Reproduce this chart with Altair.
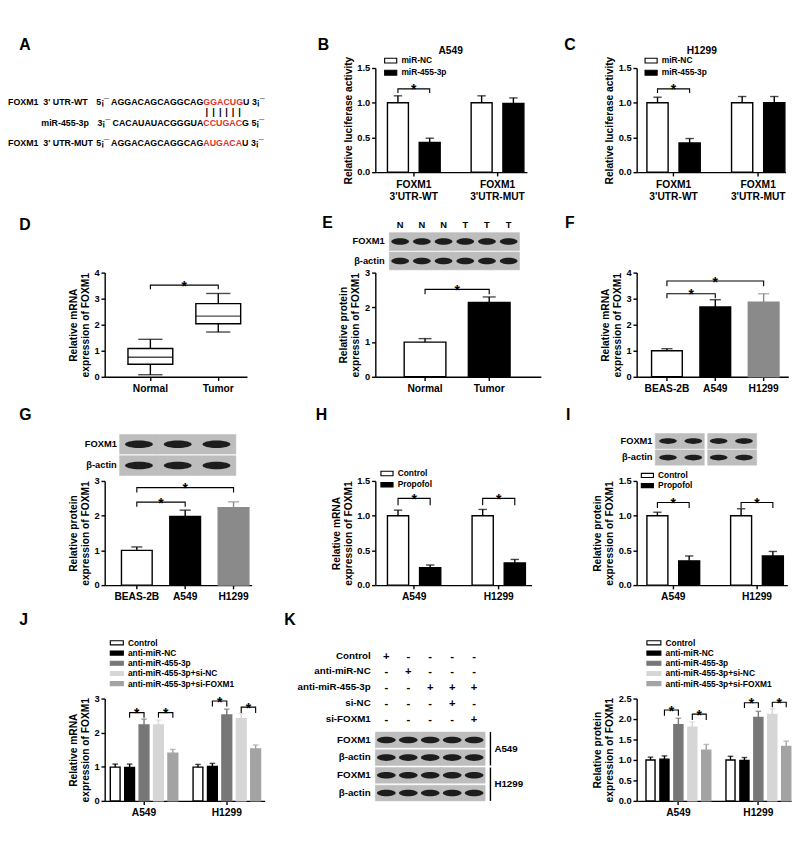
import altair as alt
import pandas as pd

FONT = "Liberation Sans"
INK = "#000000"
RED = "#e0332b"
BLOT_BG = "#bdbdbd"
BAND = "#141414"

seq_prefix = ["5¡¯ AGGACAGCAGGCAG", "3¡¯ CACAUAUACGGGUA", "5¡¯ AGGACAGCAGGCAG"]
seq_site = ["GGACUG", "CCUGAC", "AUGACA"]
seq_suffix = ["U 3¡¯", "G 5¡¯", "U 3¡¯"]

luc_groups = ["FOXM1 3'UTR-WT", "FOXM1 3'UTR-MUT"]
luc_series = ["miR-NC", "miR-455-3p"]
luc_ticks = [0.0, 0.5, 1.0, 1.5]
b_mean = [1.00, 0.43, 1.00, 0.99]
b_sem = [0.10, 0.06, 0.10, 0.08]
b_brackets = [("FOXM1 3'UTR-WT", "miR-NC", "miR-455-3p", 1.20, 0.06)]
c_mean = [1.00, 0.42, 1.00, 1.00]
c_sem = [0.08, 0.065, 0.09, 0.09]
c_brackets = [("FOXM1 3'UTR-WT", "miR-NC", "miR-455-3p", 1.20, 0.06)]

tissue = ["Normal", "Tumor"]
d_low = [0.08, 1.72]
d_q1 = [0.48, 2.04]
d_med = [0.75, 2.33]
d_q3 = [1.09, 2.81]
d_high = [1.44, 3.20]
d_ticks = [0, 1, 2, 3, 4]
d_brackets = [("Normal", "Tumor", 3.52, 0.16)]

e_mean = [1.00, 2.14]
e_sem = [0.10, 0.16]
e_ticks = [0, 1, 2, 3]
e_brackets = [("Normal", "Tumor", 2.52, 0.14)]
e_lanes = ["N1", "N2", "N3", "T1", "T2", "T3"]
e_lane_labels = ["N", "N", "N", "T", "T", "T"]

cells3 = ["BEAS-2B", "A549", "H1299"]
f_mean = [1.00, 2.68, 2.87]
f_sem = [0.08, 0.28, 0.32]
f_ticks = [0, 1, 2, 3, 4]
f_brackets = [("BEAS-2B", "A549", 3.19, 0.17), ("BEAS-2B", "H1299", 3.68, 0.20)]
g_mean = [1.00, 1.98, 2.23]
g_sem = [0.10, 0.18, 0.17]
g_ticks = [0, 1, 2, 3]
g_brackets = [("BEAS-2B", "A549", 2.39, 0.13), ("BEAS-2B", "H1299", 2.81, 0.14)]

cells2 = ["A549", "H1299"]
prop_series = ["Control", "Propofol"]
h_mean = [1.00, 0.25, 1.00, 0.32]
h_sem = [0.08, 0.04, 0.09, 0.05]
h_brackets = [("A549", "Control", "Propofol", 1.25, 0.10), ("H1299", "Control", "Propofol", 1.25, 0.10)]
i_mean = [1.00, 0.35, 1.00, 0.42]
i_sem = [0.05, 0.07, 0.10, 0.065]
i_brackets = [("A549", "Control", "Propofol", 1.19, 0.08), ("H1299", "Control", "Propofol", 1.19, 0.08)]
i_lanes = ["A549 C", "A549 P", "H1299 C", "H1299 P"]

rescue = ["Control", "anti-miR-NC", "anti-miR-455-3p",
          "anti-miR-455-3p+si-NC", "anti-miR-455-3p+si-FOXM1"]
j_mean = [0.99, 0.98, 2.23, 2.23, 1.40, 0.99, 1.01, 2.52, 2.41, 1.52]
j_sem = [0.09, 0.10, 0.17, 0.14, 0.11, 0.08, 0.09, 0.17, 0.15, 0.12]
j_brackets = [("A549", rescue[1], rescue[2], 2.59, 0.15), ("A549", rescue[3], rescue[4], 2.59, 0.15),
              ("H1299", rescue[1], rescue[2], 2.93, 0.16), ("H1299", rescue[3], rescue[4], 2.75, 0.17)]
k_mean = [1.00, 1.02, 1.86, 1.80, 1.24, 1.00, 0.99, 2.04, 2.11, 1.33]
k_sem = [0.07, 0.08, 0.16, 0.13, 0.14, 0.09, 0.07, 0.15, 0.14, 0.13]
k_brackets = [("A549", rescue[1], rescue[2], 2.22, 0.14), ("A549", rescue[3], rescue[4], 2.12, 0.14),
              ("H1299", rescue[1], rescue[2], 2.40, 0.13), ("H1299", rescue[3], rescue[4], 2.41, 0.12)]
k_treat = ["Control", "anti-miR-NC", "anti-miR-455-3p", "si-NC", "si-FOXM1"]
k_signs = ["+----", "-+---", "--+++", "---+-", "----+"]
k_lanes = ["1", "2", "3", "4", "5"]
k_rows = ["FOXM1|A549", "β-actin|A549", "FOXM1|H1299", "β-actin|H1299"]
k_cells = ["A549", "H1299"]

MRNA = ["Relative mRNA", "expression of FOXM1"]
PROT = ["Relative protein", "expression of FOXM1"]

ARIAL_BOLD = {"A": 0.722, "C": 0.722, "G": 0.778, "U": 0.722}

H1, H2, H3, H4 = 112, 112, 112, 110


def ellipse(r):
    k = 0.5523
    return (f"M-1,0C-1,{-k*r:.3f},{-k:.3f},{-r:.3f},0,{-r:.3f}"
            f"C{k:.3f},{-r:.3f},1,{-k*r:.3f},1,0"
            f"C1,{k*r:.3f},{k:.3f},{r:.3f},0,{r:.3f}"
            f"C{-k:.3f},{r:.3f},-1,{k*r:.3f},-1,0Z")


def band_params(W, n, step, left, pi):
    po = max((W / step - n + pi) / 2.0, 0.0)
    st = W / (n - pi + 2 * po)
    outer = W - st * (n - pi)
    al = min(max(left / outer, 0.0), 1.0) if outer > 0.5 else 0.5
    return po, al, st


def y_enc(field, ticks, fmt, title):
    return alt.Y(field, scale=alt.Scale(domain=[0, ticks[-1]], nice=False, zero=True),
                 axis=alt.Axis(values=ticks, format=fmt, title=title))


def text_at(txt, x, y, size=10, color=INK, align="left", baseline="middle"):
    return alt.Chart(pd.DataFrame({"t": [txt]})).mark_text(
        align=align, baseline=baseline, fontSize=size, fontWeight="bold", color=color, font=FONT
    ).encode(x=alt.value(x), y=alt.value(y), text="t:N")


def spacer(w, h):
    return alt.Chart(pd.DataFrame({"v": [0]})).mark_point(opacity=0).encode(
        x=alt.value(0), y=alt.value(0)).properties(width=w, height=h)


def legend_layers(series, fill, stroke, lx, first_c, pitch, sw=13):
    n = len(series)
    pi = 0.6
    top = first_c - pitch / 2.0
    LY = alt.Y("series:N", sort=series, axis=None,
               scale=alt.Scale(domain=series, range=[top, top + n * pitch],
                               paddingInner=pi, paddingOuter=pi / 2))
    df = pd.DataFrame({"series": series})
    sw_l = alt.Chart(df).mark_rect(strokeWidth=1.2).encode(
        x=alt.value(lx), x2=alt.value(lx + sw), y=LY, fill=fill, stroke=stroke)
    lab = alt.Chart(df).mark_text(align="left", baseline="middle", fontSize=9, fontWeight="bold",
                                  color=INK, font=FONT).encode(
        x=alt.value(lx + sw + 5), y=LY, text="series:N")
    return alt.layer(sw_l, lab)


def grouped_panel(groups, series, mean, sem, fills, edges, ticks, fmt, ytitle, W,
                  gstep, gleft, gpi, spi, cap, brackets, leg, split=False):
    ns = len(series)
    po, al, st = band_params(W, len(groups), gstep, gleft, gpi)
    ostep = st * (1 - gpi) / (ns - spi)
    df = pd.DataFrame({"group": [g for g in groups for _ in series],
                       "series": [s for _ in groups for s in series],
                       "mean": mean, "sem": sem})
    df["top"] = df["mean"] + df["sem"]
    X = alt.X("group:N", sort=groups, title=None,
              scale=alt.Scale(domain=groups, paddingInner=gpi, paddingOuter=po, align=al),
              axis=alt.Axis(labelAngle=0, labelLineHeight=13,
                            labelExpr="split(datum.label, ' ')" if split else "datum.label"))
    XO = alt.XOffset("series:N", sort=series,
                     scale=alt.Scale(domain=series, paddingInner=spi, paddingOuter=0))
    fill = alt.Fill("series:N", sort=series, scale=alt.Scale(domain=series, range=fills), legend=None)
    stroke = alt.Stroke("series:N", sort=series, scale=alt.Scale(domain=series, range=edges), legend=None)
    col = alt.Color("series:N", sort=series, scale=alt.Scale(domain=series, range=edges), legend=None)
    base = alt.Chart(df)
    bars = base.mark_bar(strokeWidth=1.5).encode(
        x=X, xOffset=XO, y=y_enc("mean:Q", ticks, fmt, ytitle), fill=fill, stroke=stroke)
    err = base.mark_rule(strokeWidth=1.5).encode(
        x=X, xOffset=XO, y=y_enc("mean:Q", ticks, fmt, ytitle), y2="top:Q", color=col)
    caps = base.mark_tick(thickness=1.5, size=cap).encode(
        x=X, xOffset=XO, y=y_enc("top:Q", ticks, fmt, ytitle), color=col)
    rows, stars = [], []
    for i, (g, a, b, lvl, drop) in enumerate(brackets):
        rows += [dict(id=i, step=0, group=g, series=a, y=lvl - drop),
                 dict(id=i, step=1, group=g, series=a, y=lvl),
                 dict(id=i, step=2, group=g, series=b, y=lvl),
                 dict(id=i, step=3, group=g, series=b, y=lvl - drop)]
        stars.append(dict(group=g, series=a, y=lvl))
    lines = alt.Chart(pd.DataFrame(rows)).mark_line(color=INK, strokeWidth=1.2).encode(
        x=X, xOffset=XO, y=y_enc("y:Q", ticks, fmt, ytitle), detail="id:N", order="step:Q")
    st_l = alt.Chart(pd.DataFrame(stars)).mark_text(
        text="*", fontSize=15, fontWeight="bold", dx=ostep / 2, dy=6, baseline="alphabetic",
        align="center", font=FONT, color=INK).encode(
        x=X, xOffset=XO, y=y_enc("y:Q", ticks, fmt, ytitle))
    main = alt.layer(bars, err, caps, lines, st_l)
    legend = legend_layers(series, fill, stroke, *leg)
    return alt.layer(main, legend).resolve_scale(y="independent")


def simple_panel(cats, mean, sem, fills, edges, ticks, fmt, ytitle, W, step, left, pi, cap, brackets):
    po, al, st = band_params(W, len(cats), step, left, pi)
    df = pd.DataFrame({"cat": cats, "mean": mean, "sem": sem})
    df["top"] = df["mean"] + df["sem"]
    X = alt.X("cat:N", sort=cats, title=None,
              scale=alt.Scale(domain=cats, paddingInner=pi, paddingOuter=po, align=al),
              axis=alt.Axis(labelAngle=0))
    fill = alt.Fill("cat:N", sort=cats, scale=alt.Scale(domain=cats, range=fills), legend=None)
    stroke = alt.Stroke("cat:N", sort=cats, scale=alt.Scale(domain=cats, range=edges), legend=None)
    col = alt.Color("cat:N", sort=cats, scale=alt.Scale(domain=cats, range=edges), legend=None)
    base = alt.Chart(df)
    bars = base.mark_bar(strokeWidth=1.5).encode(
        x=X, y=y_enc("mean:Q", ticks, fmt, ytitle), fill=fill, stroke=stroke)
    err = base.mark_rule(strokeWidth=1.5).encode(
        x=X, y=y_enc("mean:Q", ticks, fmt, ytitle), y2="top:Q", color=col)
    caps = base.mark_tick(thickness=1.5, size=cap).encode(
        x=X, y=y_enc("top:Q", ticks, fmt, ytitle), color=col)
    layers = [bars, err, caps] + bracket_layers(cats, X, st, brackets, ticks, fmt, ytitle)
    return alt.layer(*layers)


def bracket_layers(cats, X, st, brackets, ticks, fmt, ytitle):
    rows, out = [], []
    for i, (a, b, lvl, drop) in enumerate(brackets):
        rows += [dict(id=i, step=0, cat=a, y=lvl - drop), dict(id=i, step=1, cat=a, y=lvl),
                 dict(id=i, step=2, cat=b, y=lvl), dict(id=i, step=3, cat=b, y=lvl - drop)]
    out.append(alt.Chart(pd.DataFrame(rows)).mark_line(color=INK, strokeWidth=1.2).encode(
        x=X, y=y_enc("y:Q", ticks, fmt, ytitle), detail="id:N", order="step:Q"))
    for (a, b, lvl, drop) in brackets:
        ia, ib = cats.index(a), cats.index(b)
        mid = (ia + ib) / 2.0
        anchor = cats[int(mid)]
        dx = (mid - int(mid)) * st
        out.append(alt.Chart(pd.DataFrame({"cat": [anchor], "y": [lvl]})).mark_text(
            text="*", fontSize=15, fontWeight="bold", dx=dx, dy=6, baseline="alphabetic",
            align="center", font=FONT, color=INK).encode(
            x=X, y=y_enc("y:Q", ticks, fmt, ytitle)))
    return out


def blot(lanes, rows, row_labels, xr, yr, lab_x, bw, bh, row_pad=0.1,
         lane_labels=None, hdr_y=None, gap_lane=None, lab_size=10):
    cells = pd.DataFrame({"lane": [l for _ in rows for l in lanes],
                          "row": [r for r in rows for _ in lanes]})
    BX = alt.X("lane:N", sort=lanes, axis=None,
               scale=alt.Scale(domain=lanes, range=xr, paddingInner=0, paddingOuter=0))
    BY = alt.Y("row:N", sort=rows, axis=None,
               scale=alt.Scale(domain=rows, range=yr, paddingInner=row_pad, paddingOuter=0))
    bg = alt.Chart(cells).mark_rect(color=BLOT_BG, stroke=BLOT_BG, strokeWidth=0.6).encode(x=BX, y=BY)
    bands = alt.Chart(cells).mark_point(shape=ellipse(bh / bw), filled=True, color=BAND,
                                        opacity=0.95, size=bw * bw, strokeWidth=0).encode(x=BX, y=BY)
    labs = alt.Chart(pd.DataFrame({"row": rows, "lab": row_labels})).mark_text(
        align="right", baseline="middle", fontSize=lab_size, fontWeight="bold", color=INK, font=FONT
    ).encode(x=alt.value(lab_x), y=BY, text="lab:N")
    layers = [bg, bands, labs]
    if lane_labels is not None:
        layers.append(alt.Chart(pd.DataFrame({"lane": lanes, "lab": lane_labels})).mark_text(
            baseline="middle", fontSize=10, fontWeight="bold", color=INK, font=FONT
        ).encode(x=BX, y=alt.value(hdr_y), text="lab:N"))
    if gap_lane is not None:
        layers.append(alt.Chart(pd.DataFrame({"lane": [gap_lane]})).mark_rule(
            color="white", strokeWidth=3).encode(
            x=alt.X("lane:N", sort=lanes, axis=None, bandPosition=0,
                    scale=alt.Scale(domain=lanes, range=xr, paddingInner=0, paddingOuter=0)),
            y=alt.value(yr[0] - 1), y2=alt.value(yr[1] + 1)))
    return alt.layer(*layers)


# ---- A ----
FS = 9.5
A_layers = [text_at("A", -92, -32, 17, baseline="top")]
row_y = [37, 59, 81]
A_layers += [text_at("FOXM1", -104, row_y[0], FS), text_at("3' UTR-WT", -66, row_y[0], FS),
             text_at("miR-455-3p", -17, row_y[1], FS, align="right"),
             text_at("FOXM1", -104, row_y[2], FS), text_at("3' UTR-MUT", -66, row_y[2], FS)]
SITE_X = 106
for i in range(3):
    A_layers.append(text_at(seq_prefix[i], SITE_X, row_y[i], FS, align="right"))
    A_layers.append(text_at(seq_site[i], SITE_X, row_y[i], FS, color=RED))
    wsite = sum(ARIAL_BOLD[c] for c in seq_site[i]) * FS
    A_layers.append(text_at(seq_suffix[i], SITE_X + wsite, row_y[i], FS))
cum = 0.0
for c in seq_site[0]:
    w = ARIAL_BOLD[c] * FS
    A_layers.append(text_at("|", SITE_X + cum + w / 2, 48, 10, align="center"))
    cum += w
panelA = alt.layer(*A_layers).properties(width=153, height=H1)

panelB = alt.layer(
    grouped_panel(luc_groups, luc_series, b_mean, b_sem, ["white", INK], [INK, INK], luc_ticks, ".1f",
                  "Relative luciferase activity", 163, 90, 13, 0.37, 0.34, 9, b_brackets, (10, -8, 13),
                  split=True),
    text_at("A549", 81, -18, 11, align="center"),
    text_at("B", -62, -32, 17, baseline="top"),
).properties(width=163, height=H1)

panelC = alt.layer(
    grouped_panel(luc_groups, luc_series, c_mean, c_sem, ["white", INK], [INK, INK], luc_ticks, ".1f",
                  "Relative luciferase activity", 160, 91, 11, 0.37, 0.34, 9, c_brackets, (9, -8, 13),
                  split=True),
    text_at("H1299", 70, -18, 11, align="center"),
    text_at("C", -78, -32, 17, baseline="top"),
).properties(width=160, height=H1)


def box_panel():
    W = 153
    pi = 0.34
    po, al, st = band_params(W, 2, 73, 25, pi)
    bw = st * (1 - pi)
    df = pd.DataFrame({"cat": tissue, "low": d_low, "q1": d_q1, "med": d_med, "q3": d_q3, "high": d_high})
    X = alt.X("cat:N", sort=tissue, title=None,
              scale=alt.Scale(domain=tissue, paddingInner=pi, paddingOuter=po, align=al),
              axis=alt.Axis(labelAngle=0))
    Yf = lambda f: y_enc(f, d_ticks, "d", MRNA)
    base = alt.Chart(df)
    box = base.mark_bar(fill="white", stroke=INK, strokeWidth=1.5).encode(x=X, y=Yf("q1:Q"), y2="q3:Q")
    med = base.mark_tick(color=INK, thickness=1.5, size=bw).encode(x=X, y=Yf("med:Q"))
    w1 = base.mark_rule(color=INK, strokeWidth=1.5).encode(x=X, y=Yf("low:Q"), y2="q1:Q")
    w2 = base.mark_rule(color=INK, strokeWidth=1.5).encode(x=X, y=Yf("q3:Q"), y2="high:Q")
    c1 = base.mark_tick(color=INK, thickness=1.5, size=26).encode(x=X, y=Yf("low:Q"))
    c2 = base.mark_tick(color=INK, thickness=1.5, size=26).encode(x=X, y=Yf("high:Q"))
    layers = [box, med, w1, w2, c1, c2] + bracket_layers(tissue, X, st, d_brackets, d_ticks, "d", MRNA)
    return alt.layer(*layers)

panelD = alt.layer(box_panel(), text_at("D", -92, -59, 17, baseline="top")).properties(width=153, height=H2)

panelE = alt.layer(
    simple_panel(tissue, e_mean, e_sem, ["white", INK], [INK, INK], e_ticks, "d", PROT,
                 178, 69, 31, 0.35, 14, e_brackets),
    blot(e_lanes, ["FOXM1", "β-actin"], ["FOXM1", "β-actin"], [15, 155], [-43, -3], 10, 19, 7,
         row_pad=0.08, lane_labels=e_lane_labels, hdr_y=-51),
    text_at("E", -57, -61, 17, baseline="top"),
).resolve_scale(x="independent", y="independent").properties(width=178, height=H2)

panelF = alt.layer(
    simple_panel(cells3, f_mean, f_sem, ["white", INK, "#8a8a8a"], [INK, INK, "#8a8a8a"], f_ticks, "d", MRNA,
                 163, 52, 16, 0.365, 12, f_brackets),
    text_at("F", -77, -61, 17, baseline="top"),
).properties(width=163, height=H2)

panelG = alt.layer(
    simple_panel(cells3, g_mean, g_sem, ["white", INK, "#8a8a8a"], [INK, INK, "#8a8a8a"], g_ticks, "d", PROT,
                 158, 52, 18, 0.365, 12, g_brackets),
    blot(cells3, ["FOXM1", "β-actin"], ["FOXM1", "β-actin"], [16, 141], [-50, -6], 13, 30, 8, row_pad=0.08),
    text_at("G", -92, -79, 17, baseline="top"),
).resolve_scale(x="independent", y="independent").properties(width=158, height=H3)

panelH = alt.layer(
    grouped_panel(cells2, prop_series, h_mean, h_sem, ["white", INK], [INK, INK], luc_ticks, ".1f", MRNA,
                  168, 91, 13, 0.37, 0.34, 9, h_brackets, (6, -8, 12)),
    text_at("H", -64, -79, 17, baseline="top"),
).properties(width=168, height=H3)

panelI = alt.layer(
    grouped_panel(cells2, prop_series, i_mean, i_sem, ["white", INK], [INK, INK], luc_ticks, ".1f", PROT,
                  162, 90, 11, 0.37, 0.34, 9, i_brackets, (5, -6, 11)),
    blot(i_lanes, ["FOXM1", "β-actin"], ["FOXM1", "β-actin"], [20, 129], [-51, -17], 17, 19, 6,
         row_pad=0.08, gap_lane="H1299 C"),
    text_at("I", -76, -79, 17, baseline="top"),
).resolve_scale(x="independent", y="independent").properties(width=162, height=H3)

rescue_fill = ["white", INK, "#777777", "#d6d6d6", "#a3a3a3"]
rescue_edge = [INK, INK, "#777777", "#d6d6d6", "#a3a3a3"]
panelJ = alt.layer(
    grouped_panel(cells2, rescue, j_mean, j_sem, rescue_fill, rescue_edge, [0, 1, 2, 3], "d", MRNA,
                  172, 89, 6, 0.185, 0.32, 6, j_brackets, (6, -60, 11, 14)),
    text_at("J", -92, -92, 17, baseline="top"),
).properties(width=172, height=H4)


def k_blot():
    W = 118
    LX = alt.X("lane:N", sort=k_lanes, axis=None,
               scale=alt.Scale(domain=k_lanes, range=[0, W], paddingInner=0, paddingOuter=0))
    TY = alt.Y("treat:N", sort=k_treat, axis=None,
               scale=alt.Scale(domain=k_treat, range=[-54.5, 30.5], paddingInner=0, paddingOuter=0))
    tdf = pd.DataFrame({"treat": [t for t in k_treat for _ in k_lanes],
                        "lane": [l for _ in k_treat for l in k_lanes],
                        "sign": [s for row in k_signs for s in row]})
    table = alt.Chart(tdf).mark_text(fontSize=12, fontWeight="bold", color=INK, font=FONT,
                                     baseline="middle").encode(x=LX, y=TY, text="sign:N")
    tlabs = alt.Chart(pd.DataFrame({"treat": k_treat})).mark_text(
        align="right", baseline="middle", fontSize=10.5, fontWeight="bold", color=INK, font=FONT
    ).encode(x=alt.value(-5), y=TY, text="treat:N")
    tab = alt.layer(table, tlabs)
    bl = blot(k_lanes, k_rows, [r.split("|")[0] for r in k_rows], [0, W], [36, H4], -5, 20, 7,
              row_pad=0.12, lab_size=10.5)
    CY = alt.Y("cell:N", sort=k_cells, axis=None,
               scale=alt.Scale(domain=k_cells, range=[36, H4], paddingInner=0.06, paddingOuter=0))
    cdf = pd.DataFrame({"cell": k_cells})
    brk = alt.Chart(cdf).mark_rect(color=INK).encode(x=alt.value(W + 5), x2=alt.value(W + 6.5), y=CY)
    clab = alt.Chart(cdf).mark_text(align="left", baseline="middle", fontSize=10.5, fontWeight="bold",
                                    color=INK, font=FONT).encode(x=alt.value(W + 10), y=CY, text="cell:N")
    cl = alt.layer(brk, clab)
    return alt.layer(tab, bl, cl, text_at("K", -98, -92, 17, baseline="top")).resolve_scale(
        y="independent").properties(width=W, height=H4)

panelK1 = k_blot()

panelK2 = alt.layer(
    grouped_panel(cells2, rescue, k_mean, k_sem, rescue_fill, rescue_edge, [0.0, 0.5, 1.0, 1.5, 2.0, 2.5],
                  ".1f", PROT, 166, 86, 10, 0.19, 0.35, 6, k_brackets, (11, -60, 11, 15)),
).properties(width=166, height=H4)

cells = [
    panelA, spacer(102, 220), panelB, spacer(98, 1), panelC,
    panelD, spacer(97, 224), panelE, spacer(87, 1), panelF,
    panelG, spacer(99, 234), panelH, spacer(91, 1), panelI,
    panelJ, spacer(119, H4), panelK1, spacer(103, 1), panelK2,
]

chart = alt.concat(
    *cells, columns=5, spacing=0, bounds="flush",
    align={"row": "each", "column": "none"},
).resolve_scale(
    fill="independent", stroke="independent", color="independent", xOffset="independent",
    x="independent", y="independent",
).resolve_legend(
    fill="independent", stroke="independent", color="independent",
).properties(
    padding={"left": 0, "top": 0, "right": 0, "bottom": 0}
).configure(
    font=FONT
).configure_view(
    stroke=None
).configure_axis(
    domainColor=INK, domainWidth=1.5, tickColor=INK, tickWidth=1.5, tickSize=4,
    labelFont=FONT, labelFontSize=10, labelFontWeight="bold", labelColor=INK, labelPadding=2,
    titleFont=FONT, titleFontSize=11, titleFontWeight="bold", titleColor=INK, titlePadding=4,
    grid=False,
).configure_axisX(
    labelFontSize=11, labelPadding=3,
).configure_text(
    font=FONT,
)

chart.save("out.html", embed_options={"renderer": "svg", "actions": False})
